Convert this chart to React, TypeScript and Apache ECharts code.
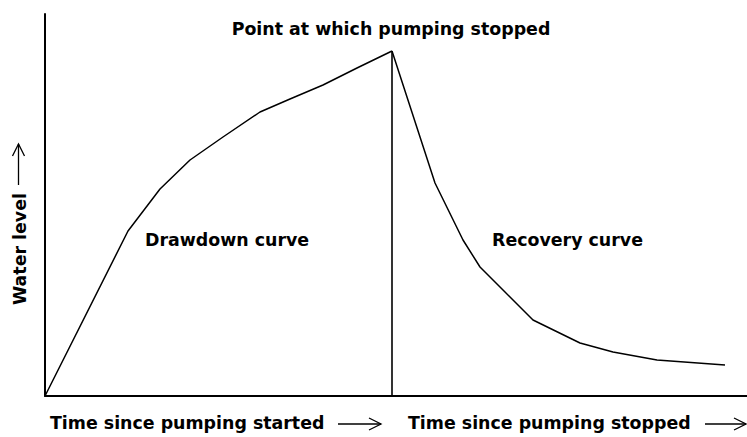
import React, { useEffect, useRef } from "react";
import * as echarts from "echarts";

// Drawdown curve: [time since pumping started, water level]
const drawdownTime = [0, 83, 115, 145, 178, 215, 245, 278, 312, 347];
const drawdownLevel = [0, 165, 207, 236, 259, 284, 297, 311, 328, 345];

// Recovery curve: [time, water level]
const recoveryTime = [347, 390, 418, 435, 488, 535, 568, 612, 680];
const recoveryLevel = [345, 213, 156, 129, 76, 53, 44, 36, 31];

// Point at which pumping stopped
const stopTime = 347;
const stopLevel = 345;

const xMax = 702;
const yMax = 382;

const titleText = "Point at which pumping stopped";
const drawdownLabel = "Drawdown curve";
const recoveryLabel = "Recovery curve";
const yAxisLabel = "Water level";
const xLabelLeft = "Time since pumping started";
const xLabelRight = "Time since pumping stopped";

export default function App() {
  const ref = useRef<HTMLDivElement>(null);

  useEffect(() => {
    document.body.style.margin = "0";
    if (!ref.current) return;
    const chart = echarts.init(ref.current, undefined, { renderer: "svg" });
    const font = "DejaVu Sans";
    const textStyle = (extra: any) => ({
      fill: "#000",
      fontFamily: font,
      fontWeight: "bold",
      fontSize: 17.4,
      ...extra,
    });
    const ln = (x1: number, y1: number, x2: number, y2: number) => ({
      type: "line",
      shape: { x1, y1, x2, y2 },
      style: { stroke: "#000", lineWidth: 1.3 },
      silent: true,
    });
    const pl = (points: number[][]) => ({
      type: "polyline",
      shape: { points },
      style: { stroke: "#000", lineWidth: 1.3, fill: "none" },
      silent: true,
    });

    chart.setOption({
      animation: false,
      backgroundColor: "#fff",
      grid: { left: 45, top: 14, right: 0, bottom: 41, containLabel: false },
      xAxis: {
        type: "value",
        min: 0,
        max: xMax,
        axisLine: { show: true, onZero: false, lineStyle: { color: "#000", width: 2 } },
        axisTick: { show: false },
        axisLabel: { show: false },
        splitLine: { show: false },
      },
      yAxis: {
        type: "value",
        min: 0,
        max: yMax,
        axisLine: { show: true, onZero: false, lineStyle: { color: "#000", width: 2 } },
        axisTick: { show: false },
        axisLabel: { show: false },
        splitLine: { show: false },
      },
      series: [
        {
          type: "line",
          name: drawdownLabel,
          data: drawdownTime.map((t, i) => [t, drawdownLevel[i]]),
          showSymbol: false,
          lineStyle: { color: "#000", width: 1.5 },
        },
        {
          type: "line",
          name: recoveryLabel,
          data: recoveryTime.map((t, i) => [t, recoveryLevel[i]]),
          showSymbol: false,
          lineStyle: { color: "#000", width: 1.5 },
        },
        {
          type: "line",
          name: "stop",
          data: [
            [stopTime, 0],
            [stopTime, stopLevel],
          ],
          showSymbol: false,
          lineStyle: { color: "#000", width: 1.6 },
        },
      ],
      graphic: [
        { type: "text", left: undefined, x: 391, y: 29, style: textStyle({ text: titleText, textAlign: "center", textVerticalAlign: "middle" }) },
        { type: "text", x: 145, y: 240, style: textStyle({ text: drawdownLabel, textAlign: "left", textVerticalAlign: "middle" }) },
        { type: "text", x: 492, y: 240, style: textStyle({ text: recoveryLabel, textAlign: "left", textVerticalAlign: "middle" }) },
        { type: "text", x: 50, y: 423, style: textStyle({ text: xLabelLeft, textAlign: "left", textVerticalAlign: "middle" }) },
        { type: "text", x: 408, y: 423, style: textStyle({ text: xLabelRight, textAlign: "left", textVerticalAlign: "middle" }) },
        {
          type: "text",
          x: 20,
          y: 249,
          rotation: Math.PI / 2,
          style: textStyle({ text: yAxisLabel, textAlign: "center", textVerticalAlign: "middle" }),
        },
        // arrows
        ln(338, 424, 381, 424),
        pl([[369, 418], [381, 424], [369, 430]]),
        ln(705, 424, 746, 424),
        pl([[734, 418], [746, 424], [734, 430]]),
        ln(18.5, 144, 18.5, 185),
        pl([[12.5, 156], [18.5, 144], [24.5, 156]]),
      ],
    });
    return () => chart.dispose();
  }, []);

  return <div ref={ref} style={{ width: 747, height: 437 }} />;
}
